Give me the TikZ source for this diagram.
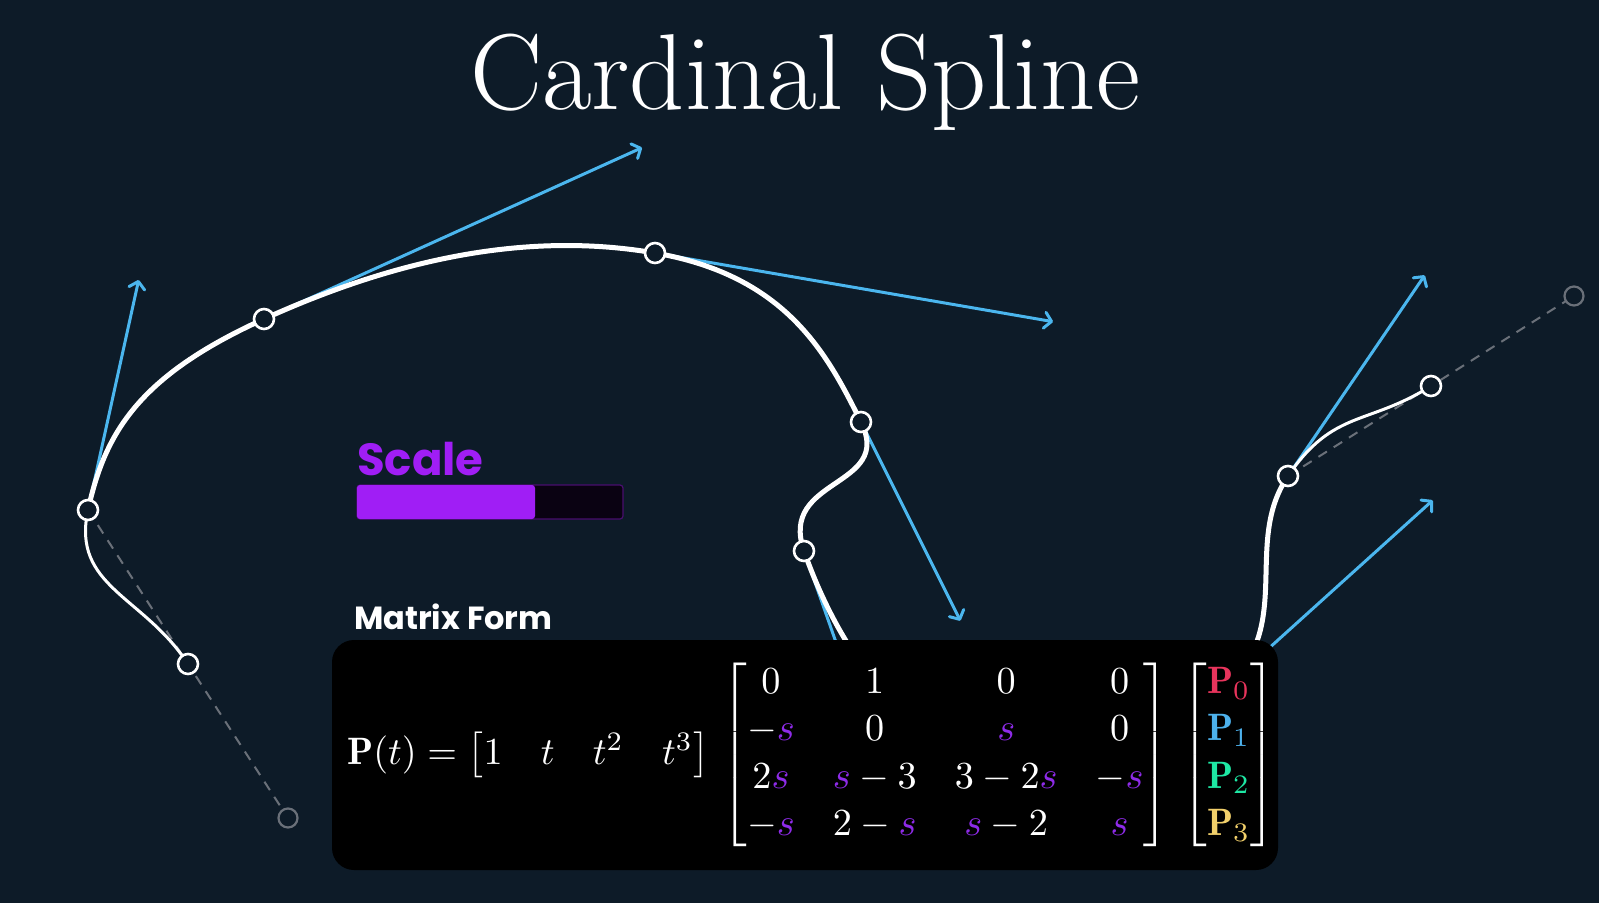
\documentclass[tikz,border=0pt]{standalone}
\usepackage{amsmath}
\usepackage{fontspec}
\newfontfamily\uifont{Poppins}
\usetikzlibrary{arrows.meta, calc}

\definecolor{bg}{HTML}{0D1B28}
\definecolor{tanblue}{HTML}{4BB6EE}
\definecolor{ghost}{HTML}{6A7079}
\definecolor{scl}{HTML}{A01EF5}
\definecolor{bar}{HTML}{0A0212}
\definecolor{spur}{HTML}{8E2BE8}
\definecolor{pzero}{HTML}{E8345C}
\definecolor{pone}{HTML}{4DB1EC}
\definecolor{ptwo}{HTML}{1EE8A4}
\definecolor{pthree}{HTML}{F2D06B}

\newcommand{\spar}{{\color{spur}s}}
\newcommand{\ctrlp}[2]{{\color{#1}\mathbf{P}_{#2}}}

\begin{document}
\begin{tikzpicture}[x=1pt, y=-1pt,
  knot/.style={circle, draw=white, line width=2.6pt, fill=bg, minimum size=20pt, inner sep=0pt},
  phantom/.style={circle, draw=ghost, line width=2.2pt, fill=bg, minimum size=19pt, inner sep=0pt},
  tangent/.style={tanblue, line width=3pt, -{Straight Barb[length=7pt, width=16pt, round]}},
  curve/.style={white, line width=5pt, line cap=round},
  endcurve/.style={white, line width=3pt, line cap=round},
  guide/.style={ghost, line width=2pt, dash pattern=on 10pt off 8pt}]

  \fill[bg] (0,0) rectangle (1599,903);
  \useasboundingbox (0,0) rectangle (1599,903);

  \node[font=\fontsize{108}{120}\selectfont, text=white, anchor=base] (title) at (805,109) {Cardinal Spline};

  % control points, g0 and g1 are the mirrored end points
  \coordinate (g0) at (288,818);
  \coordinate (q0) at (188,664);
  \coordinate (q1) at (88,510);
  \coordinate (q2) at (264,319);
  \coordinate (q3) at (655,253);
  \coordinate (q4) at (861,422);
  \coordinate (q5) at (804,551);
  \coordinate (q6) at (978,756);
  \coordinate (q7) at (1226,687);
  \coordinate (q8) at (1288,476);
  \coordinate (q9) at (1431,386);
  \coordinate (g1) at (1574,296);

  \def\sten{0.6667}
  \def\kctl{0.2222}

  \draw[guide] (q1) -- (g0);
  \draw[guide] (q8) -- (g1);

  % tangents s(P_{i+1}-P_{i-1})
  \foreach \a/\b/\c in {q0/q1/q2, q1/q2/q3, q2/q3/q4, q3/q4/q5, q4/q5/q6, q5/q6/q7, q6/q7/q8, q7/q8/q9}
    \draw[tangent] (\b) -- ($(\b)+\sten*(\c)-\sten*(\a)$);

  % spline segments
  \foreach \a/\b/\c/\d in {q0/q1/q2/q3, q1/q2/q3/q4, q2/q3/q4/q5, q3/q4/q5/q6, q4/q5/q6/q7, q5/q6/q7/q8, q6/q7/q8/q9}
    \draw[curve] (\b) .. controls ($(\b)+\kctl*(\c)-\kctl*(\a)$) and ($(\c)-\kctl*(\d)+\kctl*(\b)$) .. (\c);
  \draw[endcurve] (q0) .. controls ($(q0)+\kctl*(q1)-\kctl*(g0)$) and ($(q1)-\kctl*(q2)+\kctl*(q0)$) .. (q1);
  \draw[endcurve] (q8) .. controls ($(q8)+\kctl*(q9)-\kctl*(q7)$) and ($(q9)-\kctl*(g1)+\kctl*(q8)$) .. (q9);

  \foreach \i in {0,1,2,3,4,5,8,9}
    \node[knot] (k\i) at (q\i) {};
  \node[phantom] (h0) at (g0) {};
  \node[phantom] (h1) at (g1) {};

  % scale slider
  \node[font=\uifont\bfseries\fontsize{45}{52}\selectfont, text=scl, anchor=base west, inner sep=0pt] (scale) at (357,475) {Scale};
  \draw[fill=bar, draw=scl!45!black, line width=1.2pt, rounded corners=3pt] (357,485) rectangle (623,519);
  \fill[scl, rounded corners=3pt] (357,485) rectangle (535,519);

  % matrix panel
  \node[font=\uifont\bfseries\fontsize{32}{38}\selectfont, text=white, anchor=base west, inner sep=0pt] (mform) at (354,629) {Matrix Form};
  \fill[black, rounded corners=22pt] (332,640) rectangle (1278,870);
  \node[text=white, anchor=west, inner sep=0pt] (eq) at (347,755)
    {\scalebox{3.82}{\renewcommand{\arraystretch}{1.03}$\mathbf{P}(t) = \begin{bmatrix}1 & t & t^2 & t^3\end{bmatrix}\,
      \begin{bmatrix}
        0 & 1 & 0 & 0\\
        -\spar & 0 & \spar & 0\\
        2\spar & \spar-3 & 3-2\spar & -\spar\\
        -\spar & 2-\spar & \spar-2 & \spar
      \end{bmatrix}\,
      \begin{bmatrix}\ctrlp{pzero}{0}\\ \ctrlp{pone}{1}\\ \ctrlp{ptwo}{2}\\ \ctrlp{pthree}{3}\end{bmatrix}$}};
\end{tikzpicture}
\end{document}
